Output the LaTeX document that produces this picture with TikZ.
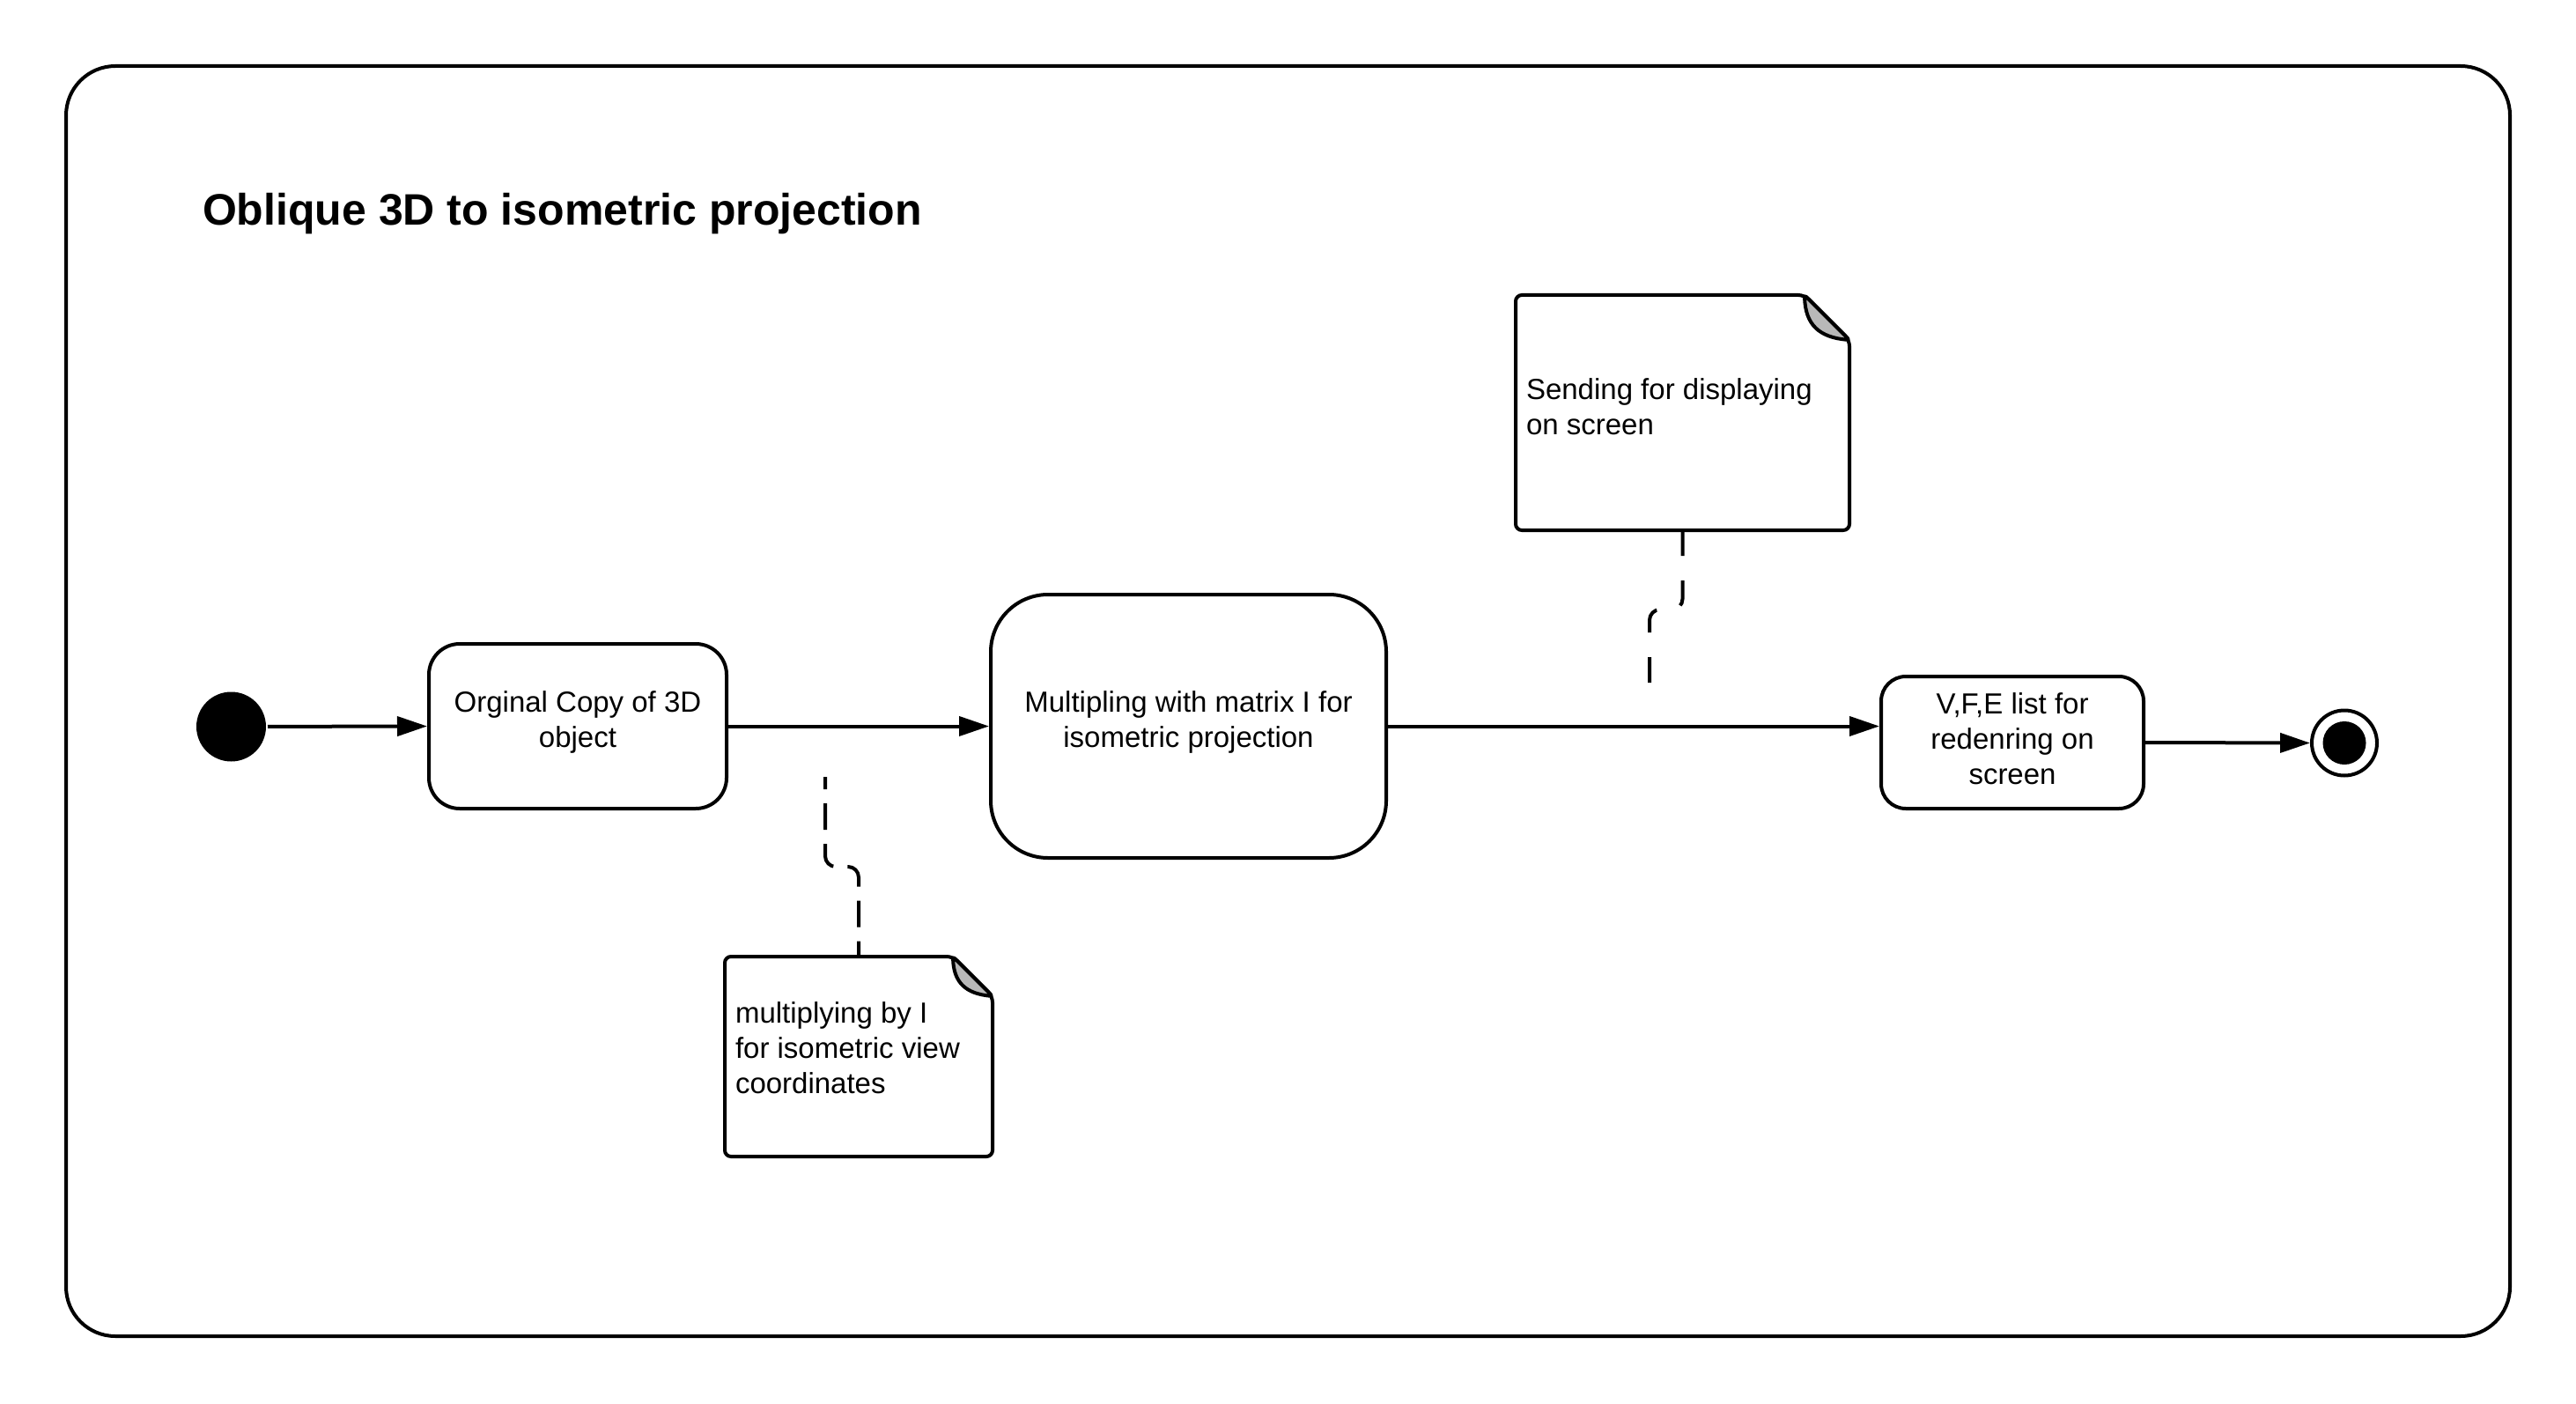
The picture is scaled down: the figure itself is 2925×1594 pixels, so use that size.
\documentclass[tikz,border=0pt]{standalone}
\usepackage{fontspec}
\setmainfont{Liberation Sans}
\usetikzlibrary{arrows.meta}
\newcommand{\lowpad}[1]{\rule[-#1]{0pt}{#1}}
\begin{document}
\begin{tikzpicture}[x=1pt,y=-1pt, line width=4pt,
  box/.style={draw, align=center, font=\fontsize{33}{40}\selectfont, inner sep=0pt},
  flow/.style={-{Triangle[length=34pt,width=22pt]}},
  linkA/.style={dash pattern=on 30pt off 16pt, rounded corners=12pt},
  linkB/.style={dash pattern=on 29pt off 28pt, rounded corners=12pt},
  notetext/.style={anchor=north west, align=left, inner sep=0pt, font=\fontsize{33}{40}\selectfont},
  notebody/.style={inner sep=0pt, draw=none},
  fold/.style={fill=black!28, line join=round, rounded corners=3pt}]
\useasboundingbox (0,0) rectangle (2925,1594);
% frame
\node[draw, rounded corners=56pt, minimum width=2775pt, minimum height=1442pt, inner sep=0pt] (frame) at (1462.5,796) {};
% title
\node[anchor=base west, inner sep=0pt, font=\fontsize{50}{60}\selectfont\bfseries] (title) at (228,256) {Oblique 3D to isometric projection};
% start / end
\node[circle, fill, minimum size=79pt, inner sep=0pt] (start) at (262.5,825) {};
\node[circle, draw, minimum size=74pt, inner sep=0pt] (end) at (2662,843.5) {};
\fill (end) circle (24.5pt);
% boxes
\node[box, rounded corners=35pt, minimum width=338pt, minimum height=187pt] (b1) at (656,824.5) {Orginal Copy of 3D\\object\lowpad{15pt}};
\node[box, rounded corners=65pt, minimum width=449pt, minimum height=299pt] (b2) at (1349.5,824.5) {Multipling with matrix I for\\isometric projection\lowpad{15pt}};
\node[box, rounded corners=28pt, minimum width=298pt, minimum height=150pt] (b3) at (2285,843) {V,F,E list for\\redenring on\\screen\lowpad{8pt}};
% flows
\draw[flow] (start) -- (b1.west);
\draw[flow] (b1.east) -- (b2.west);
\draw[flow] (b2.east) -- (b2.east -| b3.west);
\draw[flow] (b3.east) -- (end.west);
% note 1
\node[notebody, minimum width=300pt, minimum height=223pt] (n1) at (975,1199.5) {};
\draw[rounded corners=7pt] (n1.north west) -- ([xshift=-45pt]n1.north east) -- ([yshift=-45pt]n1.north east) -- (n1.south east) -- (n1.south west) -- cycle;
\filldraw[fold] ([xshift=-45pt]n1.north east) .. controls ([xshift=-44pt,yshift=-30pt]n1.north east) and ([xshift=-30pt,yshift=-42pt]n1.north east) .. ([yshift=-45pt]n1.north east) -- cycle;
\node[notetext] (t1) at (833,1136) {multiplying by I\\for isometric view\\coordinates};
% note 2
\node[notebody, minimum width=375pt, minimum height=263pt] (n2) at (1910.5,468.5) {};
\draw[rounded corners=7pt] (n2.north west) -- ([xshift=-51pt]n2.north east) -- ([yshift=-51pt]n2.north east) -- (n2.south east) -- (n2.south west) -- cycle;
\filldraw[fold] ([xshift=-51pt]n2.north east) .. controls ([xshift=-50pt,yshift=-34pt]n2.north east) and ([xshift=-34pt,yshift=-48pt]n2.north east) .. ([yshift=-51pt]n2.north east) -- cycle;
\node[notetext] (t2) at (1731,428) {Sending for displaying\\on screen};
% anchors
\coordinate (e1) at (937,882);
\coordinate (e2) at (1873,788);
\draw[linkA, dash phase=16pt] (e1) -- (937,984) -- (975,984) -- (n1.north);
\draw[linkB] (n2.south) -- (1910.5,692) -- (1873,692) -- (e2);
\end{tikzpicture}
\end{document}
